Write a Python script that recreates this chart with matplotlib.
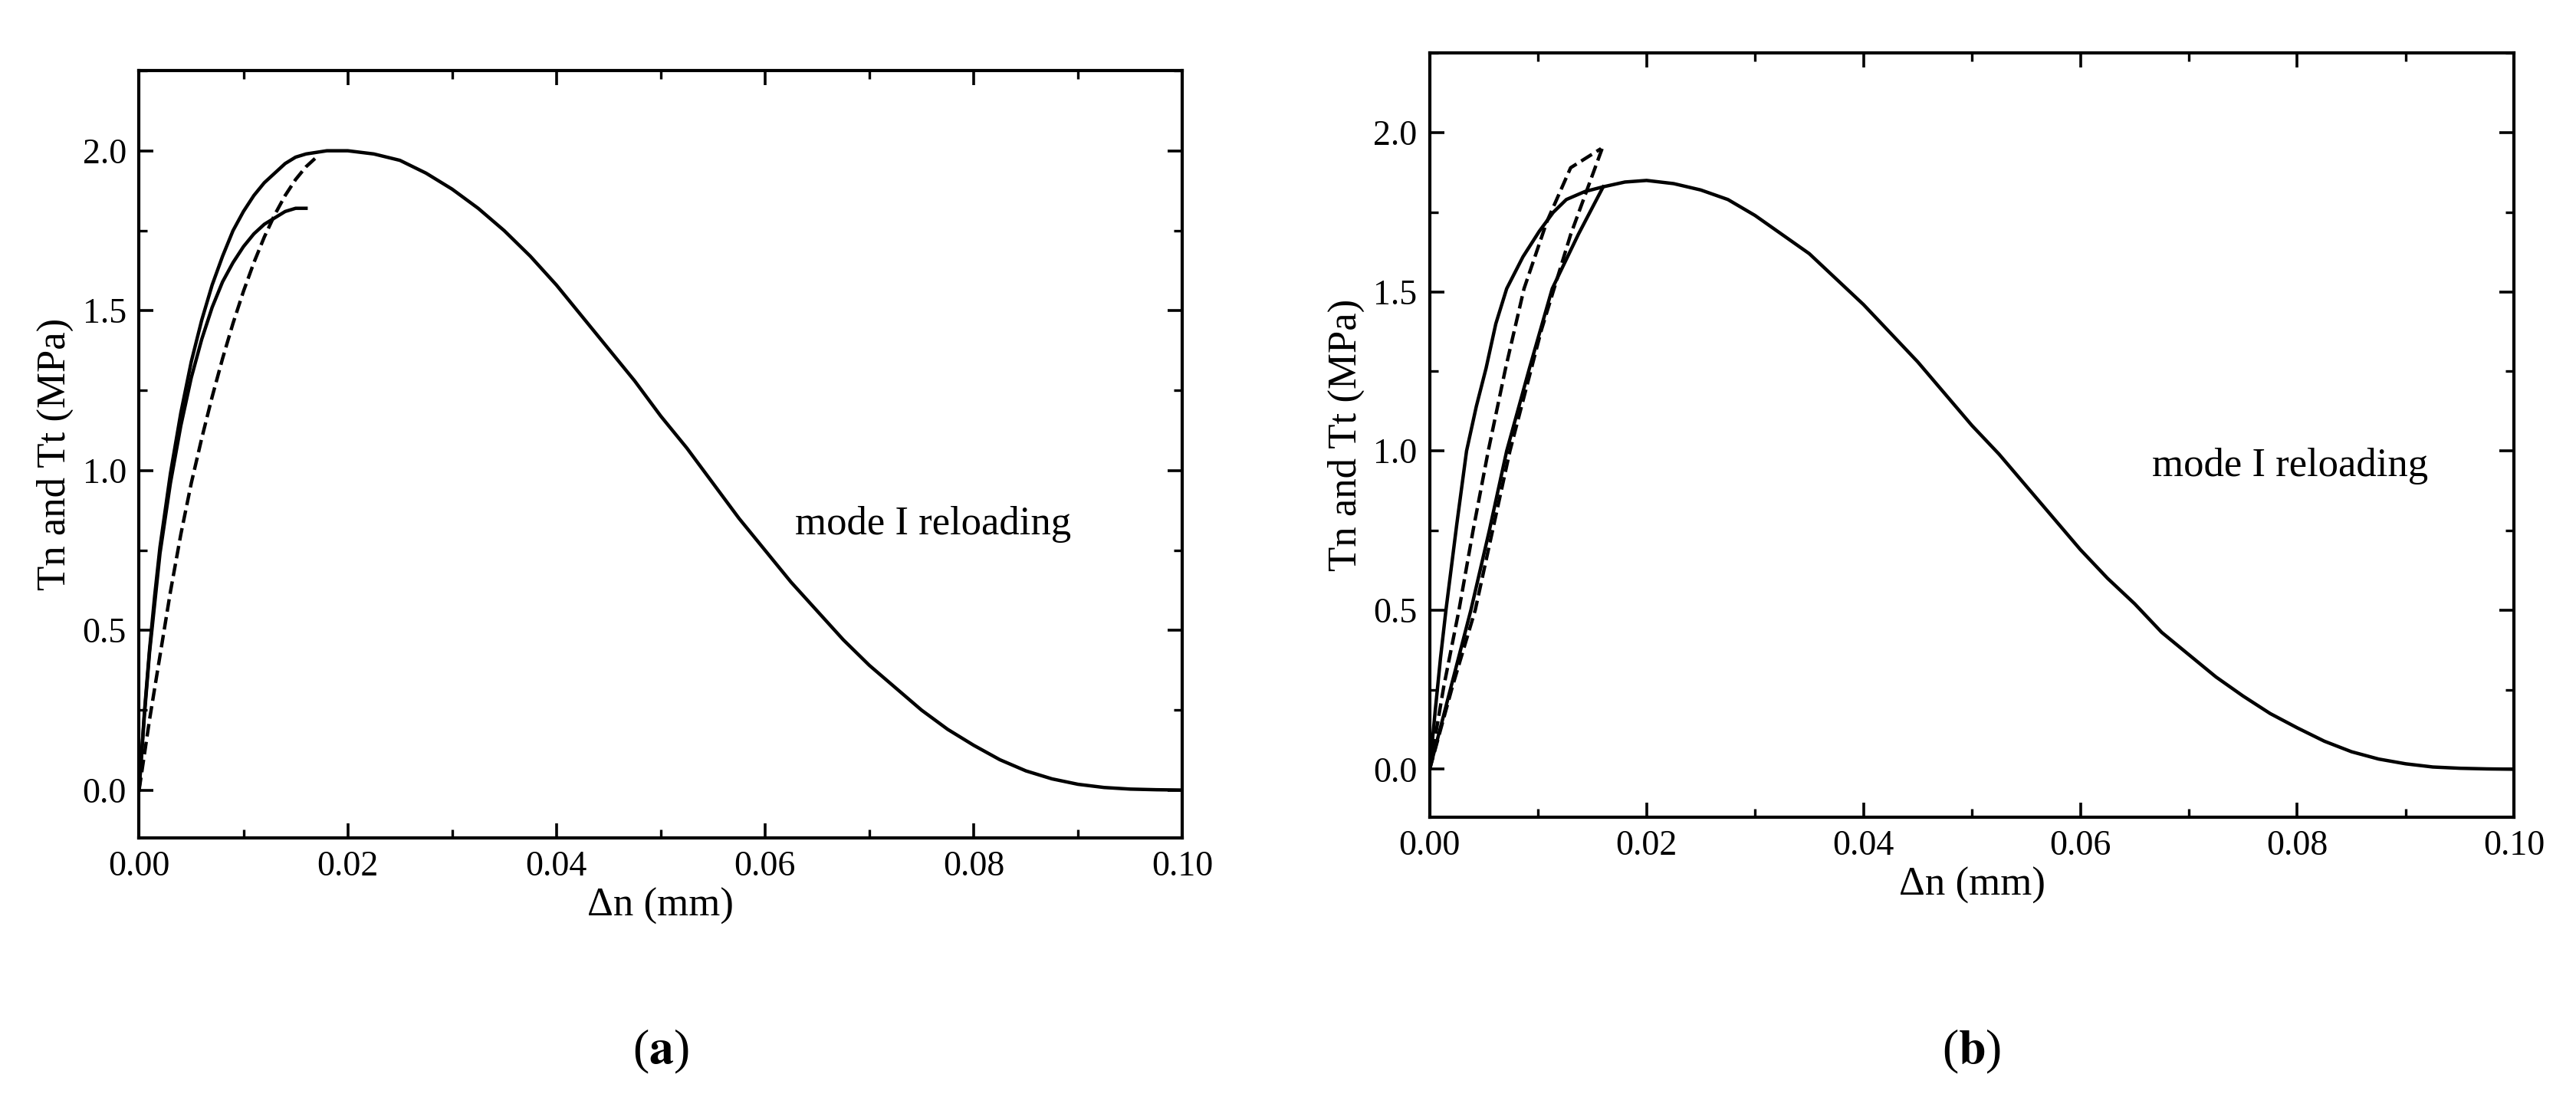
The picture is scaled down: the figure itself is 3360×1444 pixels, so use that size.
import numpy as np
import matplotlib
matplotlib.use('Agg')
import matplotlib.pyplot as plt
from matplotlib.ticker import MultipleLocator

plt.rcParams['font.family'] = ['Liberation Serif', 'DejaVu Serif']
plt.rcParams['mathtext.fontset'] = 'stix'

# panel (a)
a_main_x = [0, 0.0005, 0.001, 0.0015, 0.002, 0.003, 0.004, 0.005, 0.006, 0.007, 0.008, 0.009,
            0.010, 0.011, 0.012, 0.013, 0.014, 0.015, 0.016, 0.017, 0.018, 0.019, 0.020,
            0.0225, 0.025, 0.0275, 0.030, 0.0325, 0.035, 0.0375, 0.040, 0.0425, 0.045,
            0.0475, 0.050, 0.0525, 0.055, 0.0575, 0.060, 0.0625, 0.065, 0.0675, 0.070,
            0.0725, 0.075, 0.0775, 0.080, 0.0825, 0.085, 0.0875, 0.090, 0.0925, 0.095,
            0.0975, 0.100]
a_main_y = [0, 0.24, 0.44, 0.61, 0.76, 0.99, 1.18, 1.34, 1.47, 1.58, 1.67, 1.75,
            1.81, 1.86, 1.90, 1.93, 1.96, 1.98, 1.99, 1.995, 2.00, 2.00, 2.00,
            1.99, 1.97, 1.93, 1.88, 1.82, 1.75, 1.67, 1.58, 1.48, 1.38,
            1.28, 1.17, 1.07, 0.96, 0.85, 0.75, 0.65, 0.56, 0.47, 0.39,
            0.32, 0.25, 0.19, 0.14, 0.095, 0.06, 0.035, 0.018, 0.008, 0.003,
            0.001, 0]
a_unl_x = [0, 0.0005, 0.001, 0.002, 0.003, 0.004, 0.005, 0.006, 0.007, 0.008, 0.009,
           0.010, 0.011, 0.012, 0.013, 0.014, 0.015, 0.016]
a_unl_y = [0, 0.23, 0.43, 0.74, 0.96, 1.14, 1.29, 1.41, 1.51, 1.59, 1.65,
           1.70, 1.74, 1.77, 1.79, 1.81, 1.82, 1.82]
a_dash_x = [0, 0.001, 0.002, 0.003, 0.004, 0.005, 0.006, 0.007, 0.008, 0.009, 0.010,
            0.011, 0.012, 0.013, 0.014, 0.015, 0.016, 0.017]
a_dash_y = [0, 0.22, 0.42, 0.62, 0.80, 0.96, 1.10, 1.23, 1.35, 1.46, 1.56,
            1.65, 1.73, 1.80, 1.86, 1.91, 1.95, 1.98]

# panel (b)
b_main_x = [0, 0.0005, 0.001, 0.0015, 0.0025, 0.0034, 0.0043, 0.0052, 0.0061, 0.0071,
            0.0086, 0.0101, 0.0114, 0.0126, 0.0143, 0.016, 0.018, 0.020,
            0.0225, 0.025, 0.0275, 0.030, 0.0325, 0.035, 0.0375, 0.040, 0.0425, 0.045,
            0.0475, 0.050, 0.0525, 0.055, 0.0575, 0.060, 0.0625, 0.065, 0.0675, 0.070,
            0.0725, 0.075, 0.0775, 0.080, 0.0825, 0.085, 0.0875, 0.090, 0.0925, 0.095,
            0.0975, 0.100]
b_main_y = [0, 0.18, 0.35, 0.50, 0.77, 1.00, 1.14, 1.26, 1.40, 1.51,
            1.61, 1.69, 1.75, 1.79, 1.815, 1.83, 1.845, 1.85,
            1.84, 1.82, 1.79, 1.74, 1.68, 1.62, 1.54, 1.46, 1.37, 1.28,
            1.18, 1.08, 0.99, 0.89, 0.79, 0.69, 0.60, 0.52, 0.43, 0.36,
            0.29, 0.23, 0.175, 0.13, 0.088, 0.055, 0.032, 0.017, 0.007, 0.003,
            0.001, 0]
b_line_x = [0, 0.0019, 0.0038, 0.0055, 0.0071, 0.0092, 0.0113, 0.0137, 0.016]
b_line_y = [0, 0.25, 0.50, 0.75, 1.00, 1.26, 1.51, 1.68, 1.83]
b_dash1_x = [0, 0.0013, 0.0027, 0.0040, 0.0054, 0.0070, 0.0087, 0.0108, 0.013, 0.0158]
b_dash1_y = [0, 0.26, 0.50, 0.75, 1.00, 1.26, 1.51, 1.72, 1.89, 1.95]
b_dash2_x = [0, 0.0021, 0.0042, 0.0058, 0.0074, 0.0103, 0.013, 0.0159]
b_dash2_y = [0, 0.26, 0.50, 0.75, 1.00, 1.38, 1.68, 1.95]

fig = plt.figure(figsize=(16.8, 7.22), dpi=200)
ax_a = fig.add_axes([0.054, 0.243, 0.405, 0.693])
ax_b = fig.add_axes([0.555, 0.262, 0.421, 0.690])

ax_a.plot(a_main_x, a_main_y, 'k-', lw=1.6)
ax_a.plot(a_unl_x, a_unl_y, 'k-', lw=1.6)
ax_a.plot(a_dash_x, a_dash_y, 'k--', lw=1.6)

ax_b.plot(b_main_x, b_main_y, 'k-', lw=1.6)
ax_b.plot(b_line_x, b_line_y, 'k-', lw=1.6)
ax_b.plot(b_dash1_x, b_dash1_y, 'k--', lw=1.6)
ax_b.plot(b_dash2_x, b_dash2_y, 'k--', lw=1.6)

for ax, tx, ty in [(ax_a, 0.0629, 0.8), (ax_b, 0.0666, 0.92)]:
    ax.set_xlim(0, 0.1)
    ax.set_ylim(-0.15, 2.25)
    ax.xaxis.set_major_locator(MultipleLocator(0.02))
    ax.xaxis.set_minor_locator(MultipleLocator(0.01))
    ax.yaxis.set_major_locator(MultipleLocator(0.5))
    ax.yaxis.set_minor_locator(MultipleLocator(0.25))
    ax.set_xticklabels([f'{v:.2f}' for v in ax.get_xticks()])
    ax.set_yticklabels([f'{v:.1f}' for v in ax.get_yticks()])
    ax.tick_params(which='both', direction='in', top=True, right=True, labelsize=16.5)
    ax.tick_params(which='major', length=7, width=1.3, pad=6)
    ax.tick_params(which='minor', length=4, width=1.2)
    for s in ax.spines.values():
        s.set_linewidth(1.5)
    ax.set_xlabel('Δn (mm)', fontsize=19, labelpad=2)
    ax.set_ylabel('Tn and Tt (MPa)', fontsize=19, labelpad=4)
    ax.text(tx, ty, 'mode I reloading', fontsize=19)

fig.text(0.054 + 0.405 / 2, 0.05, r'($\mathbf{a}$)', ha='center', va='center', fontsize=23)
fig.text(0.555 + 0.421 / 2, 0.05, r'($\mathbf{b}$)', ha='center', va='center', fontsize=23)

fig.savefig('out.png', dpi=200)
